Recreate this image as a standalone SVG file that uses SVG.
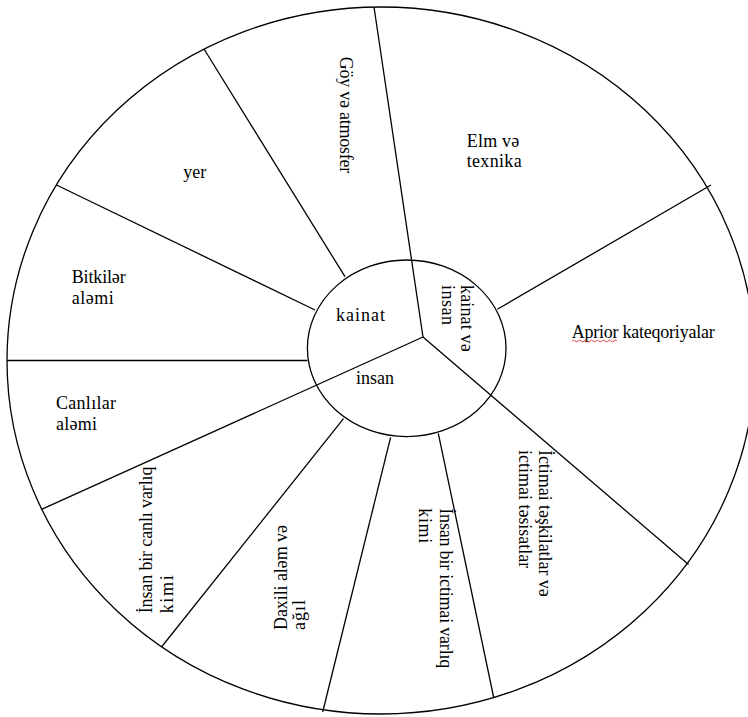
<svg xmlns="http://www.w3.org/2000/svg" width="748" height="717" viewBox="0 0 748 717">
<style>
.ring{fill:none;stroke:#000;stroke-width:1.3}
.bg{fill:#fff;stroke:#000;stroke-width:1.3}
.ln{stroke:#000;stroke-width:1.3;fill:none}
text{font-family:"Liberation Serif","Times New Roman",serif;font-size:18px;fill:#000}
.sq{fill:none;stroke:#d33;stroke-width:0.9}
</style>
<rect x="0" y="0" width="748" height="717" fill="#fff"/>
<g id="outer-circle"><ellipse class="bg" cx="381" cy="360.5" rx="374" ry="353.5"/></g>
<g id="inner-circle"><ellipse class="ring" cx="406.7" cy="348.3" rx="99.3" ry="88.3"/></g>
<g id="connectors">
<line class="ln" x1="374" y1="7" x2="423" y2="337"/>
<line class="ln" x1="423" y1="337" x2="688.5" y2="564.5"/>
<line class="ln" x1="423" y1="337" x2="41.5" y2="509.4"/>
<line class="ln" x1="56.5" y1="185" x2="315" y2="310"/>
<line class="ln" x1="7" y1="360.5" x2="307.5" y2="360.5"/>
<line class="ln" x1="204" y1="49" x2="345" y2="276.7"/>
<line class="ln" x1="497.3" y1="309.3" x2="711" y2="185"/>
<line class="ln" x1="438.3" y1="433.3" x2="493.8" y2="698"/>
<line class="ln" x1="390.6" y1="437.3" x2="322.7" y2="712"/>
<line class="ln" x1="343.5" y1="418.7" x2="161.5" y2="647"/>
</g>
<g id="kainat"><text x="336" y="321" textLength="49" lengthAdjust="spacing">kainat</text></g>
<g id="insan"><text x="356" y="384.3" textLength="38" lengthAdjust="spacing">insan</text></g>
<g id="kainat-ve-insan"><g transform="translate(461,285) rotate(90)">
<text x="0" y="0" textLength="66.7" lengthAdjust="spacing">kainat və</text>
<text x="0" y="19" textLength="40" lengthAdjust="spacing">insan</text></g></g>
<g id="goy"><g transform="translate(340,56.7) rotate(90)">
<text x="0" y="0" textLength="116.6" lengthAdjust="spacing">Göy və atmosfer</text></g></g>
<g id="elm"><text x="466.7" y="146.7" textLength="52.6" lengthAdjust="spacing">Elm və</text>
<text x="466.7" y="166.7" textLength="55" lengthAdjust="spacing">texnika</text></g>
<g id="aprior"><text x="571.7" y="337.7" textLength="143" lengthAdjust="spacing">Aprior kateqoriyalar</text>
<path class="sq" d="M572 341 q1.5 -1.8 3 0 t3 0 t3 0 t3 0 t3 0 t3 0 t3 0 t3 0 t3 0 t3 0 t3 0 t3 0 t3 0 t3 0 t3 0"/></g>
<g id="ictimai-teskilatlar"><g transform="translate(539,450) rotate(90)">
<text x="0" y="0" textLength="146.7" lengthAdjust="spacing">İctimai təşkilatlar və</text>
<text x="0" y="20" textLength="118.3" lengthAdjust="spacing">ictimai təsisatlar</text></g></g>
<g id="insan-ictimai"><g transform="translate(440,508.3) rotate(90)">
<text x="0" y="0" textLength="160" lengthAdjust="spacing">İnsan bir ictimai varlıq</text>
<text x="0" y="21" textLength="35" lengthAdjust="spacing">kimi</text></g></g>
<g id="daxili"><g transform="translate(286.5,630) rotate(-90)">
<text x="0" y="0" textLength="105" lengthAdjust="spacing">Daxili aləm və</text>
<text x="0" y="18.5" textLength="30" lengthAdjust="spacing">ağıl</text></g></g>
<g id="insan-canli"><g transform="translate(152,613.3) rotate(-90)">
<text x="0" y="0" textLength="146.7" lengthAdjust="spacing">İnsan bir canlı varlıq</text>
<text x="0" y="21" textLength="38" lengthAdjust="spacing">kimi</text></g></g>
<g id="canlilar"><text x="56" y="409.3" textLength="60" lengthAdjust="spacing">Canlılar</text>
<text x="56" y="430" textLength="41" lengthAdjust="spacing">aləmi</text></g>
<g id="bitkiler"><text x="71.7" y="283" textLength="54" lengthAdjust="spacing">Bitkilər</text>
<text x="71.7" y="304" textLength="42" lengthAdjust="spacing">aləmi</text></g>
<g id="yer"><text x="183.3" y="178.3" textLength="23" lengthAdjust="spacing">yer</text></g>
</svg>
